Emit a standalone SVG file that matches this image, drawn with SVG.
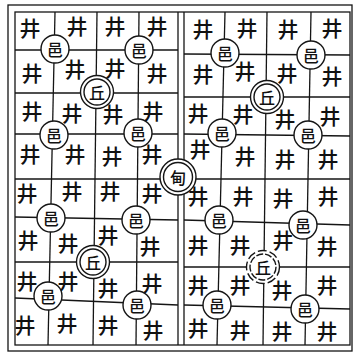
<svg xmlns="http://www.w3.org/2000/svg" width="355" height="357" viewBox="0 0 355 357">
<style>
.ln{stroke:#151515;stroke-width:1.3;fill:none}
.j{font-family:"Noto Sans CJK SC","Noto Sans CJK JP",sans-serif;font-size:21px;font-weight:500;fill:#111;text-anchor:middle;dominant-baseline:central}
.c{fill:#fff;stroke:#151515;stroke-width:1.4}
.t{font-family:"Noto Sans CJK SC","Noto Sans CJK JP",sans-serif;font-size:16px;font-weight:500;fill:#111;text-anchor:middle;dominant-baseline:central}
</style>
<rect width="355" height="357" fill="#fff"/>
<g id="connectors">
<rect class="ln" x="8" y="5" width="344" height="346"/>
<rect class="ln" x="15" y="12" width="335" height="333"/>
<line class="ln" x1="178" y1="12" x2="178" y2="345"/>
<line class="ln" x1="184" y1="12" x2="184" y2="345"/>
<line class="ln" x1="55" y1="12" x2="48" y2="345"/>
<line class="ln" x1="97" y1="12" x2="93" y2="345"/>
<line class="ln" x1="139" y1="12" x2="136" y2="345"/>
<line class="ln" x1="225" y1="12" x2="217" y2="345"/>
<line class="ln" x1="267" y1="12" x2="263" y2="345"/>
<line class="ln" x1="311" y1="12" x2="305" y2="345"/>
<line class="ln" x1="15" y1="50" x2="178" y2="50"/>
<line class="ln" x1="15" y1="93" x2="178" y2="93"/>
<line class="ln" x1="15" y1="134" x2="178" y2="134"/>
<line class="ln" x1="15" y1="179" x2="178" y2="179"/>
<line class="ln" x1="15" y1="217" x2="178" y2="220"/>
<line class="ln" x1="15" y1="262" x2="178" y2="262"/>
<line class="ln" x1="15" y1="298" x2="178" y2="305"/>
<line class="ln" x1="184" y1="54" x2="350" y2="55"/>
<line class="ln" x1="184" y1="97" x2="350" y2="97"/>
<line class="ln" x1="184" y1="134" x2="350" y2="136"/>
<line class="ln" x1="184" y1="179" x2="350" y2="179"/>
<line class="ln" x1="184" y1="220" x2="350" y2="225"/>
<line class="ln" x1="184" y1="267" x2="350" y2="267"/>
<line class="ln" x1="184" y1="305" x2="350" y2="309"/>
</g>
<g id="jing">
<text class="j" x="30" y="27">井</text><text class="j" x="77" y="25">井</text><text class="j" x="115" y="25">井</text><text class="j" x="157" y="25">井</text>
<text class="j" x="32" y="72">井</text><text class="j" x="75" y="68">井</text><text class="j" x="115" y="67">井</text><text class="j" x="157" y="72">井</text>
<text class="j" x="32" y="110">井</text><text class="j" x="72" y="112">井</text><text class="j" x="113" y="113">井</text><text class="j" x="153" y="110">井</text>
<text class="j" x="30" y="153">井</text><text class="j" x="75" y="153">井</text><text class="j" x="112" y="155">井</text><text class="j" x="152" y="153">井</text>
<text class="j" x="203" y="28">井</text><text class="j" x="247" y="27">井</text><text class="j" x="288" y="28">井</text><text class="j" x="332" y="27">井</text>
<text class="j" x="203" y="73">井</text><text class="j" x="245" y="70">井</text><text class="j" x="287" y="72">井</text><text class="j" x="332" y="75">井</text>
<text class="j" x="198" y="112">井</text><text class="j" x="243" y="113">井</text><text class="j" x="285" y="118">井</text><text class="j" x="330" y="115">井</text>
<text class="j" x="200" y="148">井</text><text class="j" x="245" y="155">井</text><text class="j" x="285" y="158">井</text><text class="j" x="328" y="158">井</text>
<text class="j" x="27" y="192">井</text><text class="j" x="72" y="190">井</text><text class="j" x="110" y="190">井</text><text class="j" x="152" y="192">井</text>
<text class="j" x="28" y="239">井</text><text class="j" x="68" y="242">井</text><text class="j" x="108" y="234">井</text><text class="j" x="150" y="245">井</text>
<text class="j" x="27" y="280">井</text><text class="j" x="68" y="280">井</text><text class="j" x="108" y="287">井</text><text class="j" x="152" y="282">井</text>
<text class="j" x="25" y="324">井</text><text class="j" x="67" y="322">井</text><text class="j" x="108" y="324">井</text><text class="j" x="153" y="329">井</text>
<text class="j" x="198" y="195">井</text><text class="j" x="243" y="195">井</text><text class="j" x="283" y="197">井</text><text class="j" x="328" y="195">井</text>
<text class="j" x="198" y="244">井</text><text class="j" x="240" y="244">井</text><text class="j" x="283" y="239">井</text><text class="j" x="327" y="245">井</text>
<text class="j" x="198" y="284">井</text><text class="j" x="240" y="284">井</text><text class="j" x="282" y="289">井</text><text class="j" x="327" y="284">井</text>
<text class="j" x="198" y="327">井</text><text class="j" x="240" y="329">井</text><text class="j" x="282" y="330">井</text><text class="j" x="327" y="330">井</text>
</g>
<g id="yi">
<g id="yi1"><circle class="c" cx="55" cy="49" r="14"/><text class="t" x="55" y="49">邑</text></g>
<g id="yi2"><circle class="c" cx="139" cy="50" r="14"/><text class="t" x="139" y="50">邑</text></g>
<g id="yi3"><circle class="c" cx="54" cy="135" r="14"/><text class="t" x="54" y="135">邑</text></g>
<g id="yi4"><circle class="c" cx="138" cy="133" r="14"/><text class="t" x="138" y="133">邑</text></g>
<g id="yi5"><circle class="c" cx="225" cy="53" r="14"/><text class="t" x="225" y="53">邑</text></g>
<g id="yi6"><circle class="c" cx="311" cy="55" r="14"/><text class="t" x="311" y="55">邑</text></g>
<g id="yi7"><circle class="c" cx="222" cy="133" r="14"/><text class="t" x="222" y="133">邑</text></g>
<g id="yi8"><circle class="c" cx="308" cy="135" r="14"/><text class="t" x="308" y="135">邑</text></g>
<g id="yi9"><circle class="c" cx="51" cy="218" r="14"/><text class="t" x="51" y="218">邑</text></g>
<g id="yi10"><circle class="c" cx="136" cy="220" r="14"/><text class="t" x="136" y="220">邑</text></g>
<g id="yi11"><circle class="c" cx="48" cy="296" r="14"/><text class="t" x="48" y="296">邑</text></g>
<g id="yi12"><circle class="c" cx="137" cy="305" r="14"/><text class="t" x="137" y="305">邑</text></g>
<g id="yi13"><circle class="c" cx="219" cy="220" r="14"/><text class="t" x="219" y="220">邑</text></g>
<g id="yi14"><circle class="c" cx="303" cy="225" r="14"/><text class="t" x="303" y="225">邑</text></g>
<g id="yi15"><circle class="c" cx="217" cy="305" r="14"/><text class="t" x="217" y="305">邑</text></g>
<g id="yi16"><circle class="c" cx="305" cy="309" r="14"/><text class="t" x="305" y="309">邑</text></g>
</g>
<g id="qiu">
<g id="qiu1"><circle class="c" cx="97" cy="92" r="16.5"/><circle class="c" cx="97" cy="92" r="13"/><text class="t" x="97" y="92">丘</text></g>
<g id="qiu2"><circle class="c" cx="267" cy="97" r="16.5"/><circle class="c" cx="267" cy="97" r="13"/><text class="t" x="267" y="97">丘</text></g>
<g id="qiu3"><circle class="c" cx="93" cy="262" r="16.5"/><circle class="c" cx="93" cy="262" r="13"/><text class="t" x="93" y="262">丘</text></g>
<g id="qiu4"><circle class="c" cx="263" cy="267" r="16.5" stroke-dasharray="9 3"/><circle class="c" cx="263" cy="267" r="13" stroke-dasharray="7 2"/><text class="t" x="263" y="267">丘</text></g>
</g>
<g id="dian"><circle class="c" cx="178" cy="177" r="18"/><circle class="c" cx="178" cy="177" r="14.5"/><text class="t" x="178" y="177">甸</text></g>
</svg>
